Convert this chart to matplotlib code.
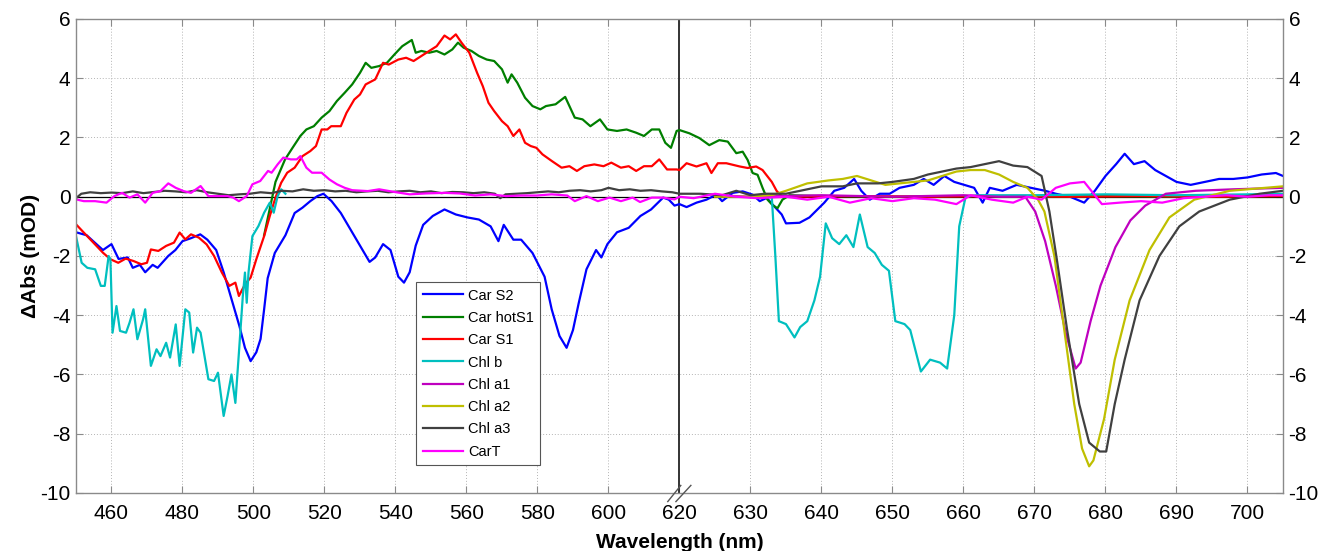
import numpy as np
import matplotlib
matplotlib.use("Agg")
import matplotlib.pyplot as plt
from matplotlib.path import Path
from matplotlib.transforms import blended_transform_factory

plt.rcParams["font.family"] = ["Liberation Sans", "DejaVu Sans"]

# ---------------------------------------------------------------- data
# wavelength (nm) / dAbs (mOD) for each species spectrum
car_s2_wl = [450, 453, 457.6, 460, 462, 464.6, 466, 468, 469.5, 471.6, 473, 476, 478, 480,
             482.4, 485, 487, 489.5, 491.6, 493.8, 496, 497.6, 499.2, 500.8, 502, 503, 504,
             506, 509, 511.6, 513.8, 516, 518, 519.7, 522, 524.6, 527.3, 530, 532.7, 534.3,
             536.5, 538.6, 540.8, 542.4, 544, 545.7, 547.8, 550.5, 553.8, 557, 560.3, 563.5,
             566.8, 569, 570.5, 573.2, 575.4, 578.6, 582, 584, 586.2, 588.2, 590, 591.6,
             593.8, 596.5, 598, 599.7, 602.4, 605.7, 609, 612, 615.4, 617, 618.6, 620, 621,
             622.4, 623.8, 625.2, 626, 627.5, 628.9, 630.3, 631.3, 632.3, 633.1, 634.4, 635,
             636.9, 638.3, 640.4, 641.8, 643.2, 644.6, 645.6, 646.8, 648.2, 649.6, 651, 653,
             654.4, 655.8, 657.3, 658.7, 660.1, 661.5, 662.7, 663.7, 665.5, 667.5, 669.5,
             671.5, 673, 675, 677, 678.5, 680, 681.5, 682.7, 684, 685.5, 687, 688.5, 690,
             692, 694, 696, 698, 700, 702, 704, 705]
car_s2 = [-1.2, -1.3, -1.8, -1.6, -2.1, -2.05, -2.4, -2.3, -2.55, -2.3, -2.4, -2.0, -1.8, -1.5,
          -1.4, -1.27, -1.45, -1.8, -2.55, -3.45, -4.35, -5.1, -5.55, -5.25, -4.8, -3.8, -2.75,
          -1.9, -1.3, -0.55, -0.37, -0.15, 0.02, 0.1, -0.15, -0.55, -1.1, -1.65, -2.2, -2.05,
          -1.6, -1.8, -2.7, -2.9, -2.55, -1.65, -0.95, -0.65, -0.43, -0.6, -0.7, -0.77,
          -1.0, -1.5, -0.95, -1.45, -1.45, -1.9, -2.7, -3.8, -4.7, -5.1, -4.5, -3.6,
          -2.45, -1.8, -2.05, -1.6, -1.2, -1.05, -0.65, -0.43, -0.03, -0.1, -0.3, -0.25, -0.35,
          -0.2, -0.1, 0.07, -0.15, 0.13, 0.18, 0.07, -0.15, -0.04, -0.26, -0.6, -0.9,
          -0.88, -0.7, -0.2, 0.2, 0.3, 0.6, 0.2, -0.1, 0.1, 0.1, 0.3, 0.4,
          0.6, 0.4, 0.7, 0.5, 0.4, 0.3, -0.2, 0.3, 0.2, 0.4, 0.3,
          0.2, 0.1, 0.0, -0.2, 0.2, 0.7, 1.1, 1.45, 1.1, 1.2, 0.9, 0.7, 0.5,
          0.4, 0.5, 0.6, 0.6, 0.65, 0.75, 0.8, 0.7]

car_hot_s1_wl = [503, 504.6, 506.2, 508.9, 511, 513.2, 514.9, 517, 519.2, 521.4, 523.5, 525.7,
                 527.8, 530, 531.6, 533.2, 535.4, 537.6, 539.7, 541.9, 544.6, 545.7, 547.3,
                 549.5, 551.6, 553.8, 556, 557.6, 559.2, 561.4, 563.5, 565.7, 567.8, 570,
                 571.6, 572.7, 574.3, 576.5, 578.6, 580.8, 582.4, 585.1, 587.8, 590.5, 592.7,
                 594.9, 597.6, 599.7, 602.4, 605.1, 607.8, 610, 612.2, 614.3, 616, 617.6,
                 619.2, 620, 621.4, 622.8, 624.2, 625.6, 626.8, 628, 628.9, 629.6, 630.3, 631,
                 631.7, 632.4, 633.1, 633.8, 634.5, 635.5, 640, 650, 660, 670, 680, 690, 705]
car_hot_s1 = [-1.3, -0.4, 0.5, 1.26, 1.65, 2.05, 2.27, 2.38, 2.67, 2.89, 3.23, 3.51,
              3.79, 4.18, 4.52, 4.35, 4.41, 4.52, 4.8, 5.08, 5.29, 4.86, 4.92,
              4.86, 4.92, 4.8, 4.97, 5.2, 5.03, 4.92, 4.75, 4.63, 4.58, 4.3,
              3.85, 4.13, 3.85, 3.34, 3.06, 2.95, 3.06, 3.12, 3.37, 2.67, 2.61,
              2.38, 2.61, 2.27, 2.22, 2.27, 2.16, 2.05, 2.27, 2.27, 1.82, 1.65,
              2.22, 2.25, 2.14, 1.98, 1.74, 1.91, 1.86, 1.47, 1.52, 1.24, 0.8, 0.74,
              0.3, -0.1, -0.28, -0.39, -0.1, 0.05, 0.02, 0.0, 0.02, 0.0, 0.02, 0.0, 0.02]

car_s1_wl = [450, 452.2, 454.9, 457.6, 459.7, 461.9, 464, 466.2, 468.4, 470, 471.1, 473.2, 475.4,
             477.6, 479.2, 480.8, 482.4, 484.6, 486.8, 488.9, 491.1, 493.2, 494.9, 495.9,
             497.6, 499.2, 500.8, 503, 504.6, 506.2, 507.8, 509.5, 511.6, 513.8, 516, 517.6,
             519.2, 520.8, 521.9, 524.6, 526.2, 528.4, 530, 531.6, 534.3, 536.5, 538.1,
             540.8, 543, 545.1, 547.3, 549.5, 551.6, 553.8, 555.4, 557, 558.6, 560.8, 563,
             564.6, 566.2, 567.8, 570, 571.6, 573.2, 574.9, 576.5, 578.1, 579.7, 581.4,
             584.1, 586.8, 589, 591.1, 593.2, 596, 598.6, 600.8, 603.5, 605.7, 607.8, 610,
             612.2, 614.3, 616.5, 619.2, 620, 621, 622.4, 623.8, 624.5, 625.4, 626.6, 628.5,
             629.6, 630.8, 631.7, 633, 633.7, 634.4, 636, 645, 655, 665, 675, 685, 695, 705]
car_s1 = [-0.93, -1.21, -1.55, -1.89, -2.11, -2.23, -2.09, -2.17, -2.28, -2.23, -1.78, -1.83,
          -1.66, -1.55, -1.21, -1.44, -1.27, -1.38, -1.61, -2.0, -2.56, -3.01, -2.9, -3.35,
          -2.96, -2.73, -2.11, -1.33, -0.65, -0.03, 0.47, 0.81, 0.98, 1.37, 1.54, 1.71,
          2.27, 2.27, 2.38, 2.38, 2.83, 3.28, 3.45, 3.79, 3.96, 4.52, 4.46,
          4.63, 4.69, 4.58, 4.75, 4.92, 5.08, 5.44, 5.31, 5.48, 5.2, 4.86, 4.18,
          3.73, 3.17, 2.89, 2.55, 2.38, 2.05, 2.27, 1.82, 1.71, 1.65, 1.43,
          1.2, 0.98, 1.03, 0.87, 1.03, 1.09, 1.03, 1.15, 0.98, 1.03, 0.87, 1.03,
          1.03, 1.26, 0.92, 0.92, 0.9, 1.13, 1.02, 1.13, 0.8, 1.13, 1.13, 1.02,
          0.97, 1.02, 0.9, 0.5, 0.19, 0.02, 0.0, 0.02, 0.0, 0.02, 0.0, 0.02, 0.0, 0.02]

chl_b_wl = [450, 451.6, 453.2, 455.4, 457, 458.1, 459.2, 459.7, 460.3, 461.4, 462.4, 464.1,
            465.1, 466.2, 467.3, 468.9, 469.5, 471.1, 472.7, 473.8, 475.4, 476.5, 478.1,
            479.2, 480.8, 481.9, 483, 484.1, 485.1, 487.3, 488.9, 490, 491.6, 492.7, 493.8,
            494.9, 495.9, 497, 497.6, 498.1, 498.6, 499.7, 501.4, 503, 504.6, 505.7, 506.8,
            507.8, 509, np.nan,
            633, 633.5, 634, 635, 636.2, 637, 638, 639, 639.8, 640.6, 641.5, 642.5, 643.5,
            644.5, 645.4, 646.5, 647.5, 648.5, 649.5, 650.4, 651.7, 652.5, 654, 655.3,
            656.7, 657.7, 658.7, 659.4, 660.3, 662, 670, 680, 690, 700, 705]
chl_b = [-1.33, -2.23, -2.4, -2.45, -3.01, -3.01, -2.0, -2.11, -4.59, -3.69, -4.53, -4.59,
         -4.25, -3.8, -4.81, -4.14, -3.8, -5.71, -5.15, -5.38, -4.93, -5.43, -4.31,
         -5.71, -3.8, -3.91, -5.26, -4.42, -4.59, -6.16, -6.22, -5.94, -7.4, -6.73, -6.0,
         -6.96, -5.26, -3.35, -2.56, -3.58, -2.56, -1.33, -0.99, -0.54, -0.2, -0.54, 0.02,
         0.25, 0.1, np.nan,
         0.0, -2.0, -4.2, -4.3, -4.75, -4.4, -4.2, -3.5, -2.7, -0.9, -1.4, -1.6, -1.3,
         -1.7, -0.6, -1.7, -1.9, -2.3, -2.5, -4.2, -4.3, -4.5, -5.9, -5.5,
         -5.6, -5.8, -4.0, -1.0, 0.0, 0.05, 0.05, 0.08, 0.05, 0.08, 0.1]

chl_a1_wl = [625, 630, 640, 650, 660, 665, 668.7, 670.1, 671.5, 673, 674.4, 675.8, 676.5,
             677.9, 679.3, 681.4, 683.5, 685.6, 688.5, 692.7, 698, 705]
chl_a1 = [0.05, 0.0, 0.05, 0.0, 0.05, 0.0, 0.0, -0.5, -1.5, -3.0, -4.6, -5.8, -5.6,
          -4.2, -3.0, -1.7, -0.8, -0.3, 0.1, 0.2, 0.25, 0.3]

chl_a2_wl = [625, 630, 633, 635, 638, 641, 643, 645, 647, 649, 651, 653, 655, 657, 659, 661,
             663, 665, 667, 669, 670.5, 671.4, 672.8, 674.2, 675.6, 676.7, 677.7, 678.3,
             679.8, 681.3, 683.4, 686.2, 689, 692.5, 697.5, 705]
chl_a2 = [0.0, 0.0, 0.05, 0.2, 0.45, 0.55, 0.6, 0.7, 0.55, 0.4, 0.45, 0.5, 0.55, 0.7, 0.85, 0.9,
          0.9, 0.75, 0.5, 0.3, -0.1, -0.5, -2.0, -4.5, -7.0, -8.5, -9.1, -8.9,
          -7.5, -5.5, -3.5, -1.8, -0.7, -0.1, 0.2, 0.35]

chl_a3_wl = [450, 451.5, 454, 457, 460, 463, 466, 469, 472, 475, 478, 481, 484, 487, 490, 493,
             496, 499, 502, 505, 508, 511, 514, 517, 520, 523, 526, 529, 532, 535, 538, 541,
             544, 547, 550, 553, 556, 559, 562, 565, 568, 569.5, 571, 574, 577, 580, 583,
             586, 589, 592, 595, 598, 600, 603, 606, 609, 612, 615, 618, 620, 623, 626, 628,
             630, 632, 635, 638, 640, 643, 645, 648, 650, 653, 655, 657, 659, 661, 663, 665,
             667, 669, 671, 672.1, 673.2, 674.6, 676.3, 677.7, 679.2, 680.1, 681.3, 682.7,
             684.8, 687.6, 690.4, 693.2, 697.5, 701.7, 705]
chl_a3 = [-0.05, 0.1, 0.15, 0.12, 0.14, 0.12, 0.18, 0.12, 0.16, 0.2, 0.18, 0.15, 0.22, 0.15,
          0.1, 0.05, 0.08, 0.1, 0.15, 0.12, 0.2, 0.18, 0.25, 0.2, 0.22, 0.18, 0.2, 0.15,
          0.18, 0.2, 0.15, 0.18, 0.2, 0.15, 0.18, 0.12, 0.16, 0.15, 0.12, 0.15, 0.1, -0.05,
          0.08, 0.1, 0.12, 0.15, 0.18, 0.15, 0.2, 0.22, 0.18, 0.22, 0.3, 0.22, 0.25, 0.2,
          0.22, 0.18, 0.15, 0.1, 0.1, 0.05, 0.2, 0.05, 0.1, 0.1, 0.25, 0.35, 0.35, 0.45,
          0.45, 0.5, 0.6, 0.75, 0.85, 0.95, 1.0, 1.1, 1.2, 1.05, 1.0, 0.7, -0.5, -2.2,
          -4.5, -7.0, -8.3, -8.6, -8.6, -7.0, -5.5, -3.5, -2.0, -1.0, -0.5, -0.1, 0.1, 0.2]

car_t_wl = [450, 452.2, 455.4, 458.6, 460.8, 463, 465.1, 467.3, 469.5, 471.6, 473.8, 476,
            478.1, 480.3, 482.4, 485.1, 487.3, 490, 492.7, 494.3, 495.9, 498.1, 499.7, 501.9,
            504.1, 505.1, 506.8, 508.4, 510.5, 512.2, 513.2, 514.9, 516.5, 519.2, 521.4,
            523.5, 525.7, 527.8, 532.2, 535.4, 539.7, 544, 548.4, 553.8, 558.1, 562.4,
            566.8, 571.1, 575.4, 579.7, 584, 588.4, 590.5, 593.8, 597, 600.3, 603.5, 606.8,
            608.9, 612.2, 615.4, 618.6, 620, 622, 625, 628, 631, 635, 638, 641, 644, 647,
            650, 653, 656, 659, 661, 664, 667, 669, 671, 673, 675, 677, 678, 679.5, 682,
            685, 688, 691, 694, 697, 700, 703, 705]
car_t = [-0.09, -0.15, -0.15, -0.2, 0.02, 0.13, -0.03, 0.08, -0.2, 0.13, 0.19, 0.45,
         0.3, 0.19, 0.13, 0.36, 0.02, 0.02, 0.02, -0.03, -0.15, 0.02, 0.42, 0.53,
         0.87, 0.81, 1.09, 1.32, 1.26, 1.26, 1.37, 0.98, 0.81, 0.81, 0.58,
         0.42, 0.3, 0.22, 0.19, 0.25, 0.16, 0.08, 0.11, 0.13, 0.11, 0.04,
         0.08, 0.02, 0.04, 0.04, 0.08, 0.04, -0.15, 0.02, -0.15, -0.03, -0.15, -0.03,
         -0.18, -0.03, -0.03, -0.09, 0.0, -0.05, 0.1, 0.0, -0.05, 0.0, -0.1, 0.0, -0.2, -0.05,
         -0.15, -0.05, -0.1, -0.25, 0.05, -0.1, -0.2, 0.0, -0.1, 0.3, 0.45, 0.5, 0.2, -0.25, -0.2,
         -0.15, -0.2, -0.05, 0.0, 0.05, 0.0, 0.05, 0.05]

series = [
    ("Car S2", car_s2_wl, car_s2, "#0000ff"),
    ("Car hotS1", car_hot_s1_wl, car_hot_s1, "#007f00"),
    ("Car S1", car_s1_wl, car_s1, "#ff0000"),
    ("Chl b", chl_b_wl, chl_b, "#00bfbf"),
    ("Chl a1", chl_a1_wl, chl_a1, "#bf00bf"),
    ("Chl a2", chl_a2_wl, chl_a2, "#bfbf00"),
    ("Chl a3", chl_a3_wl, chl_a3, "#404040"),
    ("CarT", car_t_wl, car_t, "#ff00ff"),
]

x_ticks = [460, 480, 500, 520, 540, 560, 580, 600, 620, 630, 640, 650, 660, 670, 680, 690, 700]
y_ticks = [-10, -8, -6, -4, -2, 0, 2, 4, 6]
BREAK = 620.0


# broken wavelength axis: right of the break is stretched 2x
def fwd(x):
    x = np.asarray(x, dtype=float)
    return np.where(x <= BREAK, x, BREAK + 2.0 * (x - BREAK))


def inv(u):
    u = np.asarray(u, dtype=float)
    return np.where(u <= BREAK, u, BREAK + (u - BREAK) / 2.0)


fig = plt.figure(figsize=(13.19, 5.51), dpi=100)
ax = fig.add_axes([0.0576, 0.1053, 0.9151, 0.8603])
ax.set_xscale("function", functions=(fwd, inv))

ax.axhline(0, color="black", lw=0.9, zorder=1.5)
ax.axvline(BREAK, color="#333333", lw=1.4, zorder=1.6)

handles = []
for name, wl, vals, col in series:
    ln, = ax.plot(wl, vals, color=col, lw=1.6, label=name)
    handles.append(ln)

ax.set_xlim(450, 705)
ax.set_ylim(-10, 6)
ax.set_xticks(x_ticks)
ax.set_xticklabels([str(t) for t in x_ticks])
ax.set_yticks(y_ticks)
ax.set_yticklabels([str(t) for t in y_ticks])
ax.minorticks_off()

ax.grid(True, ls=(0, (1, 2)), color="#b4b4b4", lw=0.7)
ax.set_axisbelow(True)
for sp in ax.spines.values():
    sp.set_color("#8a8a8a")
    sp.set_linewidth(1.0)
ax.tick_params(direction="in", length=5, width=0.8, color="#8a8a8a",
               labelsize=15, top=True, right=True, labelright=True, pad=4)
ax.tick_params(axis="x", pad=8)

ax.set_xlabel("Wavelength (nm)", fontsize=15, fontweight="bold", labelpad=7)
ax.set_ylabel("\u0394Abs (mOD)", fontsize=15, fontweight="bold", labelpad=0)

# "//" break mark on the bottom axis
brk = Path([(-12, -8.5), (1.7, 8.5), (-4, -8.5), (11.7, 8.5)],
           [Path.MOVETO, Path.LINETO, Path.MOVETO, Path.LINETO])
trans = blended_transform_factory(ax.transData, ax.transAxes)
ax.plot([BREAK], [0], marker=brk, ms=17.5, mew=1.0, color="#555555",
        transform=trans, clip_on=False, zorder=5)

leg = ax.legend(handles=handles, loc="upper left", bbox_to_anchor=(0.2817, 0.445),
                fontsize=10.5, frameon=True, fancybox=False, framealpha=1,
                edgecolor="#555555", handlelength=2.8, handletextpad=0.3,
                labelspacing=0.57, borderpad=0.45, borderaxespad=0)
leg.get_frame().set_linewidth(0.8)

fig.savefig("out.png", dpi=100)
